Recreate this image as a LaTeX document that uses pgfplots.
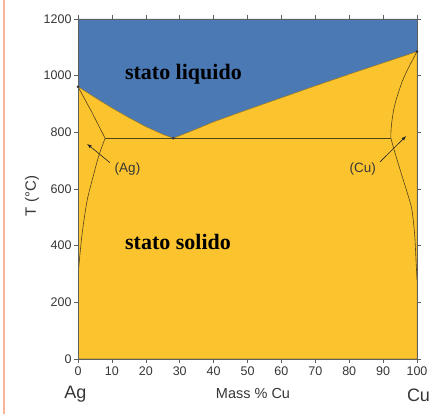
\documentclass[border=0pt]{standalone}
\usepackage{fontspec}
\setmainfont{Liberation Serif}
\setsansfont{Liberation Sans}
\usepackage{pgfplots}
\pgfplotsset{compat=1.18}
\definecolor{liqblue}{RGB}{74,121,180}
\definecolor{solyellow}{RGB}{251,195,46}
\definecolor{bline}{RGB}{85,68,25}
\definecolor{axgray}{RGB}{95,95,95}
\definecolor{txtgray}{RGB}{55,55,55}
\definecolor{salmon}{RGB}{248,180,155}
\begin{document}
\begin{tikzpicture}[x=1pt,y=1pt]
\useasboundingbox (0,0) rectangle (441,414);
\fill[white] (0,0) rectangle (441,414);
\draw[salmon,line width=1.2pt] (4,0) -- (4,414);
\begin{axis}[
  at={(78pt,55pt)}, anchor=origin,
  scale only axis, width=339pt, height=340pt,
  xmin=0, xmax=100, ymin=0, ymax=1200,
  xtick={0,10,...,100}, ytick={0,200,...,1200},
  tick pos=both, tick align=outside,
  major tick length=4pt,
  axis line style={axgray, line width=0.6pt},
  every tick/.style={axgray, line width=0.6pt},
  /pgf/number format/assume math mode=true,
  /pgf/number format/1000 sep={},
  tick label style={font=\sffamily\fontsize{12.5}{14}\selectfont, text=txtgray},
  yticklabel style={xshift=1pt},
  axis on top,
  clip=true,
]
% liquid region (background)
\addplot[draw=none, fill=liqblue] coordinates {(0,0) (0,1200) (100,1200) (100,0)} \closedcycle;
% solid region below liquidus
\addplot[draw=bline!60!solyellow, line width=0.5pt, fill=solyellow] coordinates {
 (0,0) (0,961) (2,946) (5,923) (10,886) (15,852) (20,820) (25,793) (28.1,779)
 (35,812) (40,837) (50,880) (60,922) (70,964) (80,1005) (90,1045) (100,1085) (100,0)} -- cycle;
% eutectic line
\addplot[bline, line width=0.7pt] coordinates {(8,779) (92.3,779)};
% Ag-side solidus
\addplot[bline, line width=0.6pt] coordinates {(0,961) (4,873) (8,779)};
% Ag-side solvus
\addplot[bline, line width=0.6pt, smooth] coordinates {
 (8,779) (6.2,720) (4.6,650) (2.7,560) (1.3,450) (0.5,360) (0.1,300) (0,230)};
% Cu-side solidus
\addplot[bline, line width=0.6pt, smooth] coordinates {
 (100,1085) (98,1040) (96,990) (94.5,940) (93.3,890) (92.6,840) (92.3,800) (92.3,779)};
% Cu-side solvus
\addplot[bline, line width=0.6pt, smooth] coordinates {
 (92.3,779) (93.2,740) (94.4,692) (96,630) (97.3,580) (98.5,526) (99.3,440) (99.7,350) (100,280)};
% arrows
\addplot[black!85, line width=0.6pt, -latex] coordinates {(9.4,693) (2.7,759)};
\addplot[black!85, line width=0.6pt, -latex] coordinates {(89.1,696) (96.8,787)};
% key points
\addplot[only marks, mark=*, mark size=1.1pt, black!80] coordinates {(0,961) (100,1085) (28.1,779)};
% labels
\node[font=\sffamily\fontsize{13.5}{15}\selectfont, text=txtgray] at (axis cs:14.6,671) {(Ag)};
\node[font=\sffamily\fontsize{13.5}{15}\selectfont, text=txtgray] at (axis cs:84,671) {(Cu)};
\node[font=\rmfamily\bfseries\fontsize{22}{24}\selectfont, anchor=base] at (axis cs:31.1,985) {stato liquido};
\node[font=\rmfamily\bfseries\fontsize{22}{24}\selectfont, anchor=base] at (axis cs:29.5,388) {stato solido};
\end{axis}
\node[font=\sffamily\fontsize{15}{17}\selectfont, text=txtgray, rotate=90] at (32,218) {T (°C)};
\node[font=\sffamily\fontsize{14.5}{16}\selectfont, text=txtgray, anchor=base] at (253,15) {Mass \% Cu};
\node[font=\sffamily\fontsize{18}{20}\selectfont, text=txtgray, anchor=base] at (75.5,15) {Ag};
\node[font=\sffamily\fontsize{18}{20}\selectfont, text=txtgray, anchor=base] at (418.5,12) {Cu};
\end{tikzpicture}
\end{document}
